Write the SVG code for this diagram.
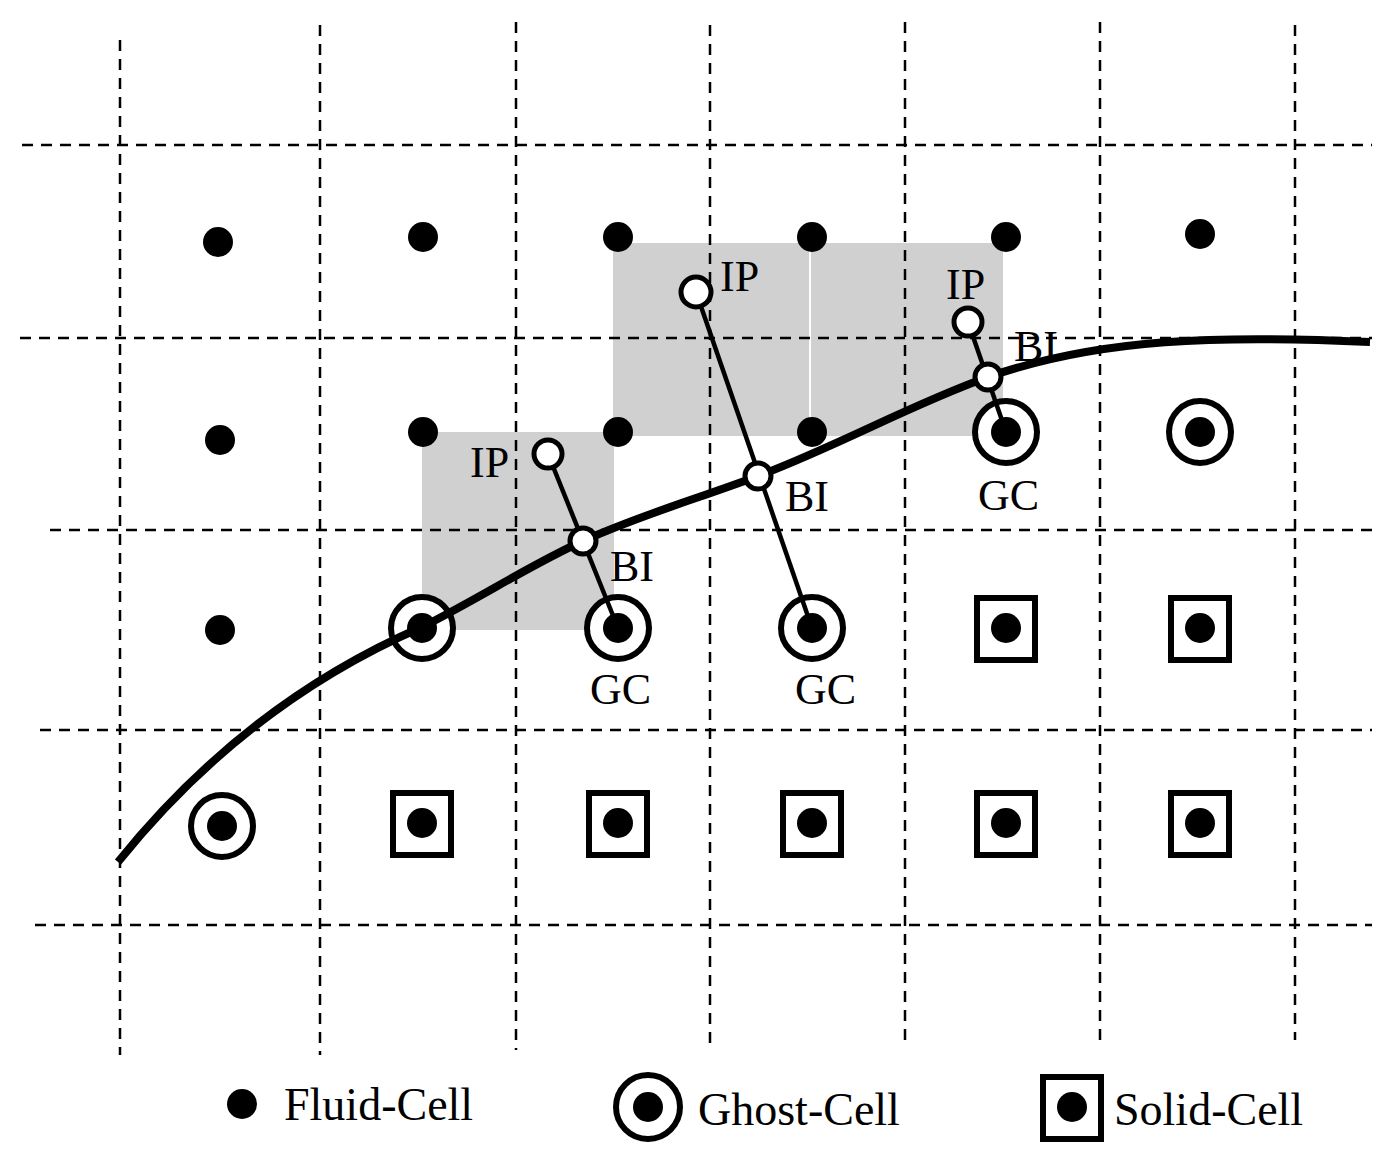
<svg xmlns="http://www.w3.org/2000/svg" width="1389" height="1166" viewBox="0 0 1389 1166">
<style>
.g{stroke:#000;stroke-width:2.5;stroke-dasharray:11 8;fill:none}
.f{fill:#000}
.ring{fill:#fff;stroke:#000;stroke-width:6}
.sq{fill:#fff;stroke:#000;stroke-width:6}
.pt{fill:#fff;stroke:#000;stroke-width:5}
.lab{font-family:"Liberation Serif",serif;font-size:44px;fill:#000}
.leg{font-family:"Liberation Serif",serif;font-size:46px;fill:#000}
</style>
<rect width="1389" height="1166" fill="#fff"/>
<g id="shading">
<rect x="613" y="243" width="390" height="193" fill="#d0d0d0"/>
<rect x="422" y="432" width="192" height="198" fill="#d0d0d0"/>
<line x1="810" y1="243" x2="810" y2="436" stroke="#fff" stroke-width="2"/>
</g>
<g id="grid">
<line class="g" x1="120" y1="40" x2="120" y2="1055"/>
<line class="g" x1="320" y1="25" x2="320" y2="1055"/>
<line class="g" x1="516" y1="22" x2="516" y2="1050"/>
<line class="g" x1="710" y1="25" x2="710" y2="1050"/>
<line class="g" x1="905" y1="22" x2="905" y2="1045"/>
<line class="g" x1="1100" y1="22" x2="1100" y2="1045"/>
<line class="g" x1="1295" y1="25" x2="1295" y2="1040"/>
<line class="g" x1="22" y1="145" x2="1372" y2="145"/>
<line class="g" x1="20" y1="338" x2="1372" y2="338"/>
<line class="g" x1="50" y1="530" x2="1372" y2="530"/>
<line class="g" x1="40" y1="730" x2="1372" y2="730"/>
<line class="g" x1="35" y1="925" x2="1372" y2="925"/>
</g>
<g id="fluid-cells">
<circle class="f" cx="218" cy="242" r="15"/><circle class="f" cx="423" cy="237" r="15"/><circle class="f" cx="618" cy="237" r="15"/><circle class="f" cx="812" cy="237" r="15"/><circle class="f" cx="1006" cy="237" r="15"/><circle class="f" cx="1200" cy="234" r="15"/>
<circle class="f" cx="220" cy="440" r="15"/><circle class="f" cx="423" cy="432" r="15"/><circle class="f" cx="618" cy="432" r="15"/><circle class="f" cx="812" cy="432" r="15"/>
<circle class="f" cx="220" cy="630" r="15"/>
</g>
<g id="solid-cells">
<rect class="sq" x="977" y="598" width="58" height="62"/><circle class="f" cx="1006" cy="628" r="15"/>
<rect class="sq" x="1171" y="598" width="58" height="62"/><circle class="f" cx="1200" cy="628" r="15"/>
<rect class="sq" x="393" y="793" width="58" height="62"/><circle class="f" cx="422" cy="823" r="15"/>
<rect class="sq" x="589" y="793" width="58" height="62"/><circle class="f" cx="618" cy="823" r="15"/>
<rect class="sq" x="783" y="793" width="58" height="62"/><circle class="f" cx="812" cy="823" r="15"/>
<rect class="sq" x="977" y="793" width="58" height="62"/><circle class="f" cx="1006" cy="823" r="15"/>
<rect class="sq" x="1171" y="793" width="58" height="62"/><circle class="f" cx="1200" cy="823" r="15"/>
</g>
<g id="ghost-cells">
<circle class="ring" cx="422" cy="628" r="31"/><circle class="f" cx="422" cy="628" r="15"/>
<circle class="ring" cx="618" cy="628" r="31"/><circle class="f" cx="618" cy="628" r="15"/>
<circle class="ring" cx="812" cy="628" r="31"/><circle class="f" cx="812" cy="628" r="15"/>
<circle class="ring" cx="1006" cy="432" r="31"/><circle class="f" cx="1006" cy="432" r="15"/>
<circle class="ring" cx="1200" cy="432" r="31"/><circle class="f" cx="1200" cy="432" r="15"/>
<circle class="ring" cx="222" cy="826" r="31"/><circle class="f" cx="222" cy="826" r="15"/>
</g>
<g id="connectors" stroke="#000" fill="none">
<line x1="548" y1="454" x2="618" y2="628" stroke-width="4.5"/>
<line x1="696" y1="292" x2="812" y2="628" stroke-width="4.5"/>
<line x1="968" y1="322" x2="1006" y2="432" stroke-width="4.5"/>
<path d="M118,862 C200,760 300,680 422,627 C480,598 530,565 583,541 C640,515 700,498 758,476 C840,445 910,405 988,377 C1100,338 1220,335 1370,342" stroke-width="8"/>
</g>
<g id="points">
<circle class="pt" cx="548" cy="454" r="14"/><circle class="pt" cx="583" cy="541" r="13"/>
<circle class="pt" cx="696" cy="292" r="15"/><circle class="pt" cx="758" cy="476" r="13"/>
<circle class="pt" cx="968" cy="322" r="14"/><circle class="pt" cx="988" cy="377" r="13"/>
</g>
<g id="labels">
<text class="lab" x="470" y="477">IP</text>
<text class="lab" x="610" y="581">BI</text>
<text class="lab" x="590" y="704">GC</text>
<text class="lab" x="720" y="291">IP</text>
<text class="lab" x="785" y="511">BI</text>
<text class="lab" x="795" y="704">GC</text>
<text class="lab" x="946" y="299">IP</text>
<text class="lab" x="1014" y="361">BI</text>
<text class="lab" x="978" y="510">GC</text>
</g>
<g id="legend">
<circle class="f" cx="242" cy="1104" r="15"/>
<text class="leg" x="284" y="1120">Fluid-Cell</text>
<circle class="ring" cx="648" cy="1107" r="32"/><circle class="f" cx="648" cy="1107" r="15"/>
<text class="leg" x="698" y="1125">Ghost-Cell</text>
<rect class="sq" x="1043" y="1077" width="58" height="62"/><circle class="f" cx="1072" cy="1107" r="15"/>
<text class="leg" x="1114" y="1125">Solid-Cell</text>
</g>
</svg>
